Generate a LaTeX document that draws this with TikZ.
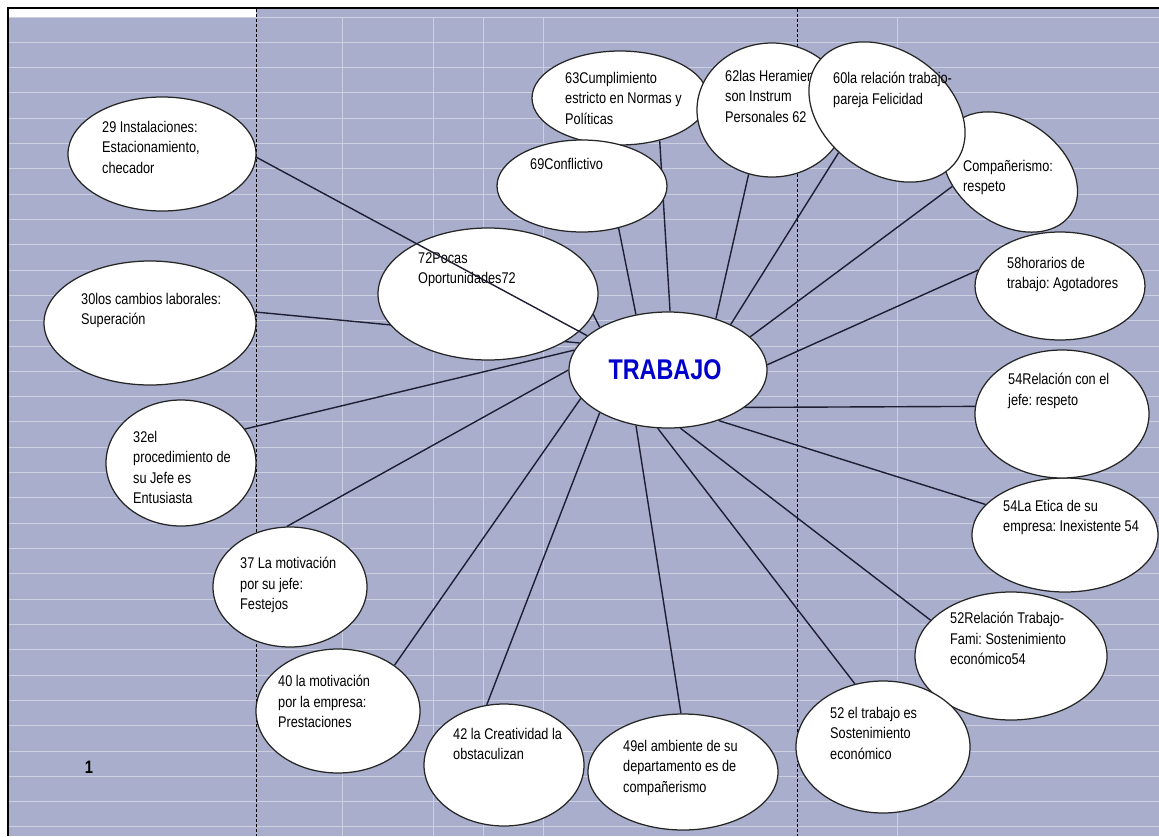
\documentclass[tikz,border=0pt]{standalone}
\usepackage{fontspec}
\setmainfont{Liberation Sans}[FakeStretch=0.82]
\usetikzlibrary{shapes.geometric}
\definecolor{bgblue}{RGB}{168,174,204}
\definecolor{gridc}{RGB}{204,208,225}
\definecolor{lnc}{RGB}{30,30,52}
\definecolor{tblue}{RGB}{0,0,205}
\pgfdeclarelayer{bg}
\pgfdeclarelayer{lns}
\pgfsetlayers{bg,lns,main}
\frenchspacing
\tikzset{
  ell/.style={ellipse, draw=black!85, fill=white, line width=1.25pt, inner sep=0pt},
  lbl/.style={anchor=north west, inner sep=0pt, align=left, font=\fontsize{15.5}{20.5}\selectfont\frenchspacing},
  conn/.style={draw=lnc, line width=1.4pt},
  gridline/.style={draw=gridc, line width=1pt},
  colsep/.style={draw=black, line width=0.9pt, dash pattern=on 3pt off 2pt},
}
\begin{document}
\begin{tikzpicture}[x=1pt,y=-1pt]
\useasboundingbox (0,0) rectangle (1159,836);
% ellipses and texts
\node[ell, minimum width=188, minimum height=114] (e29) at (162,154) {};
\node[lbl] (t29) at (102,121) {29 Instalaciones:\\Estacionamiento,\\checador};
\node[ell, minimum width=212, minimum height=124] (e30) at (150,323) {};
\node[lbl] (t30) at (81,293) {30los cambios laborales:\\Superación};
\node[ell, minimum width=150, minimum height=126] (e32) at (181,463) {};
\node[lbl] (t32) at (133,431) {32el\\procedimiento de\\su Jefe es\\Entusiasta};
\node[ell, minimum width=154, minimum height=120] (e37) at (290,587) {};
\node[lbl] (t37) at (240,557) {37 La motivación\\por su jefe:\\Festejos};
\node[ell, minimum width=164, minimum height=124] (e40) at (338,711) {};
\node[lbl] (t40) at (278,675) {40 la motivación\\por la empresa:\\Prestaciones};
\node[ell, minimum width=160, minimum height=122] (e42) at (504,765) {};
\node[lbl] (t42) at (453,728) {42 la Creatividad la\\obstaculizan};
\node[ell, minimum width=190, minimum height=116] (e49) at (683,772) {};
\node[lbl] (t49) at (623,740) {49el ambiente de su\\departamento es de\\compañerismo};
\node[ell, minimum width=192, minimum height=128] (e52b) at (1011,656) {};
\node[lbl] (t52b) at (950,612) {52Relación Trabajo-\\Fami: Sostenimiento\\económico54};
\node[ell, minimum width=174, minimum height=132] (e52a) at (883,747) {};
\node[lbl] (t52a) at (830,707) {52 el trabajo es\\Sostenimiento\\económico};
\node[ell, minimum width=186, minimum height=114] (e54e) at (1065,535) {};
\node[lbl] (t54e) at (1003,500) {54La Etica de su\\empresa: Inexistente 54};
\node[ell, minimum width=174, minimum height=128] (e54r) at (1062,414) {};
\node[lbl] (t54r) at (1008,373) {54Relación con el\\jefe: respeto};
\node[ell, minimum width=170, minimum height=108] (e58) at (1060,286) {};
\node[lbl] (t58) at (1007,257) {58horarios de\\trabajo: Agotadores};
\node[ell, minimum width=176, minimum height=94] (e63) at (620,98) {};
\node[lbl] (t63) at (565,72) {63Cumplimiento\\estricto en Normas y\\Políticas};
\node[ell, minimum width=170, minimum height=92] (e69) at (582,186) {};
\node[lbl] (t69) at (530,158) {69Conflictivo};
\node[ell, minimum width=150, minimum height=134] (e62) at (772,110) {};
\node[lbl] (t62) at (725,70) {62las Heramientas\\son Instrum\\Personales 62};
\node[ell, minimum width=148, minimum height=104, rotate=-35] (ecomp) at (1010,172) {};
\node[lbl] (tcomp) at (963,160) {Compañerismo:\\respeto};
\node[ell, minimum width=170, minimum height=123, rotate=-35] (e60) at (887,112) {};
\node[lbl] (t60) at (833,72) {60la relación trabajo-\\pareja Felicidad};
\node[ell, minimum width=220, minimum height=132] (e72) at (488,294) {};
\node[lbl] (t72) at (418,252) {72Pocas\\Oportunidades72};
\node[ell, minimum width=198, minimum height=116] (trab) at (668,370) {};
\node[inner sep=0pt, text=tblue, font=\fontsize{28.5}{32}\selectfont\bfseries] (ttrab) at (665,370) {TRABAJO};
\node[inner sep=0pt, font=\fontsize{18}{20}\selectfont\bfseries] (t1) at (89,767) {1};
% connectors beneath ellipses
\begin{pgfonlayer}{lns}
\draw[conn] (trab.163) -- (e30.6);
\draw[conn] (trab.168) -- (e32.28);
\draw[conn] (trab.180) -- (e37.93);
\draw[conn] (trab.198) -- (e40.39);
\draw[conn] (trab.212) -- (e42.106);
\draw[conn] (trab.240) -- (e49.92);
\draw[conn] (trab.260) -- (e52a.114);
\draw[conn] (trab.282) -- (e52b.156);
\draw[conn] (trab.315) -- (e54e.159);
\draw[conn] (trab.334) -- (e54r.175);
\draw[conn] (trab.3) -- (e58.169);
\draw[conn] (trab.22) -- (ecomp.229);
\draw[conn] (trab.36) -- (e60.255);
\draw[conn] (trab.47) -- (e62.250);
\draw[conn] (trab.88) -- (e63.313);
\draw[conn] (trab.120) -- (e69.311);
\draw[conn] (trab.148) -- (e72.349);
\end{pgfonlayer}
% connector over the 72 ellipse
\draw[conn] (e29.358) -- (trab.157);
% background sheet
\begin{pgfonlayer}{bg}
\fill[bgblue] (9,9) rectangle (1159,836);
\fill[white] (9,9) rectangle (256,16.5);
\foreach \k in {0,...,32} \draw[gridline] (9,17+25.31*\k) -- (1159,17+25.31*\k);
\foreach \xx in {342,433,483,543,897} \draw[gridline] (\xx,17) -- (\xx,836);
\draw[colsep] (256,9) -- (256,836);
\draw[colsep] (797,9) -- (797,836);
\draw[black, line width=2.5pt] (8,836) -- (8,8) -- (1159,8);
\end{pgfonlayer}
\end{tikzpicture}
\end{document}
